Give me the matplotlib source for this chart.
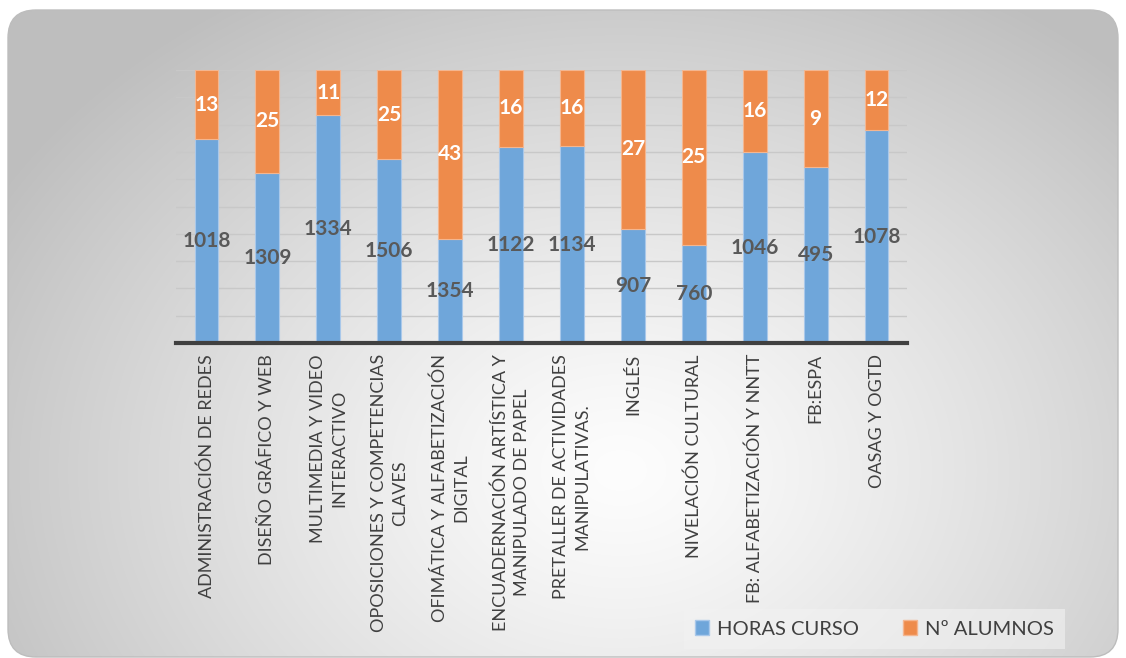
import numpy as np
import matplotlib.pyplot as plt
from matplotlib.patches import FancyBboxPatch, Patch

plt.rcParams['font.family'] = ['Lato', 'DejaVu Sans']

# Datos del gráfico
cursos = [
    "ADMINISTRACIÓN DE REDES",
    "DISEÑO GRÁFICO Y WEB",
    "MULTIMEDIA Y VIDEO\nINTERACTIVO",
    "OPOSICIONES Y COMPETENCIAS\nCLAVES",
    "OFIMÁTICA Y ALFABETIZACIÓN\nDIGITAL",
    "ENCUADERNACIÓN ARTÍSTICA Y\nMANIPULADO DE PAPEL",
    "PRETALLER DE ACTIVIDADES\nMANIPULATIVAS.",
    "INGLÉS",
    "NIVELACIÓN CULTURAL",
    "FB: ALFABETIZACIÓN Y NNTT",
    "FB:ESPA",
    "OASAG Y OGTD",
]
horas = [1018, 1309, 1334, 1506, 1354, 1122, 1134, 907, 760, 1046, 495, 1078]
alumnos = [13, 25, 11, 25, 43, 16, 16, 27, 25, 16, 9, 12]
pct_horas = [74.7, 62.4, 83.5, 67.3, 38.2, 71.8, 72.1, 41.8, 36.0, 69.9, 64.3, 78.0]
pct_alumnos = [25.3, 37.6, 16.5, 32.7, 61.8, 28.2, 27.9, 58.2, 64.0, 30.1, 35.7, 22.0]

W, H = 1126, 658
fig = plt.figure(figsize=(W / 100, H / 100), dpi=100)
fig.patch.set_facecolor("white")

# Fondo con degradado y esquinas redondeadas
bg = fig.add_axes([0, 0, 1, 1])
bg.set_xlim(0, W)
bg.set_ylim(H, 0)
bg.axis("off")
yy, xx = np.mgrid[0:H, 0:W]
d = np.sqrt(((xx - 620) / 620.0) ** 2 + ((yy - 470) / 480.0) ** 2)
val = np.clip(253 - 52 * d ** 1.25, 190, 253) / 255.0
img = bg.imshow(np.dstack([val, val, val]), extent=(0, W, H, 0), zorder=0)
box = FancyBboxPatch((8, 10), W - 16, H - 11, boxstyle="round,pad=0,rounding_size=28",
                     facecolor="none", edgecolor="#bdbdbd", lw=1.0, zorder=1)
bg.add_patch(box)
img.set_clip_path(box)

ax = fig.add_axes([176 / W, 1 - 343 / H, 731 / W, 273 / H])
ax.patch.set_alpha(0)
x = np.arange(len(cursos))
azul = "#6fa6da"
naranja = "#ee8b4b"
ax.bar(x, pct_horas, width=0.39, color=azul, edgecolor="#a9c8ea", lw=0.8, zorder=3)
ax.bar(x, pct_alumnos, width=0.39, bottom=pct_horas, color=naranja,
       edgecolor="#f4b690", lw=0.8, zorder=3)

for i in range(len(cursos)):
    ax.text(x[i], pct_horas[i] / 2, str(horas[i]), ha="center", va="center",
            fontsize=15, fontweight="bold", color="#595959", zorder=4)
    ax.text(x[i], pct_horas[i] + pct_alumnos[i] / 2, str(alumnos[i]), ha="center",
            va="center", fontsize=15, fontweight="bold", color="white", zorder=4)

ax.set_xlim(-0.5, len(cursos) - 0.5)
ax.set_ylim(0, 100)
ax.set_yticks(np.arange(0, 101, 10))
ax.set_yticklabels([])
ax.tick_params(axis="y", length=0)
ax.tick_params(axis="x", length=0, pad=8)
ax.grid(axis="y", color="#c8c8c8", lw=1.0, zorder=0)
for s in ["left", "right", "top"]:
    ax.spines[s].set_visible(False)
ax.spines["bottom"].set_color("#404040")
ax.spines["bottom"].set_linewidth(3)
ax.spines["bottom"].set_zorder(5)
ax.set_xticks(x)
ax.set_xticklabels(cursos, rotation=90, fontsize=13, color="#404040",
                   multialignment="center", linespacing=1.4)

handles = [Patch(facecolor=azul, edgecolor="#a9c8ea", label="HORAS CURSO"),
           Patch(facecolor=naranja, edgecolor="#f4b690", label="Nº ALUMNOS")]
leg = fig.legend(handles=handles, loc="center", ncol=2,
                 bbox_to_anchor=(874.5 / W, 1 - 629 / H), frameon=True,
                 fontsize=14.5, handlelength=0.7, handleheight=0.7, handletextpad=0.4,
                 columnspacing=2.2, borderpad=0.55, borderaxespad=0, fancybox=False)
leg.get_frame().set_facecolor("#f2f2f2")
leg.get_frame().set_alpha(0.6)
leg.get_frame().set_edgecolor("none")
for t in leg.get_texts():
    t.set_color("#404040")

fig.savefig("out.png", dpi=100)
